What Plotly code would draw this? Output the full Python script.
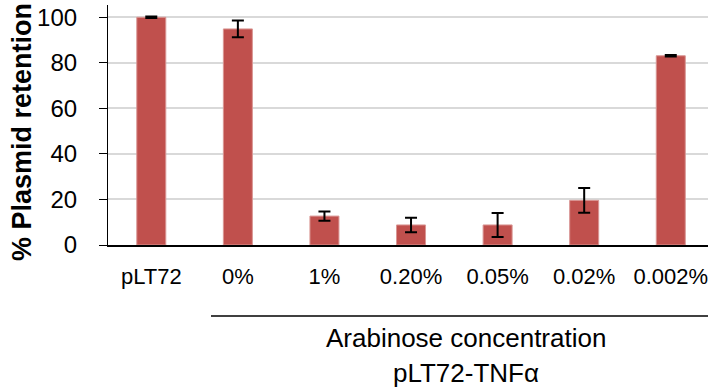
import plotly.graph_objects as go

categories = ["pLT72", "0%", "1%", "0.20%", "0.05%", "0.02%", "0.002%"]
retention = [100.0, 94.9, 12.7, 8.8, 8.8, 19.6, 83.1]
errors = [0.3, 3.7, 2.0, 3.2, 5.3, 5.4, 0.3]
tick_values = [0, 20, 40, 60, 80, 100]

FONT = "Liberation Sans, Arial, sans-serif"
x_idx = list(range(len(categories)))

fig = go.Figure()
fig.add_trace(go.Bar(
    x=x_idx, y=retention,
    width=0.335,
    marker=dict(color="#C0504D", line=dict(color="#D99694", width=1)),
    error_y=dict(type="data", array=errors, visible=True,
                 color="black", thickness=2, width=6),
))

fig.update_layout(
    width=708, height=391,
    margin=dict(l=108, r=0, t=5, b=146),
    plot_bgcolor="white", paper_bgcolor="white",
    showlegend=False,
    font=dict(family=FONT, color="black"),
    xaxis=dict(
        range=[-0.5, 6.43],
        tickmode="array", tickvals=x_idx, ticktext=categories,
        tickfont=dict(size=22, family=FONT, color="black"),
        showline=True, linecolor="black", linewidth=1.5,
        ticks="", showgrid=False, zeroline=False,
        ticklabelstandoff=11, ticklabeloverflow="allow",
    ),
    yaxis=dict(
        range=[0, 105.4],
        tickmode="array", tickvals=tick_values,
        tickfont=dict(size=24, family=FONT, color="black"),
        showline=True, linecolor="black", linewidth=1.2,
        ticks="outside", ticklen=8, tickcolor="black", tickwidth=1.2,
        showgrid=True, gridcolor="#D9D9D9", gridwidth=1.5,
        zeroline=False,
        ticklabelstandoff=17,
    ),
)

fig.add_annotation(
    text="<b>% Plasmid retention</b>", textangle=-90,
    xref="paper", yref="paper", x=(22 - 108) / 600, y=(245 - 132) / 240,
    xanchor="center", yanchor="middle", showarrow=False,
    font=dict(size=27, family=FONT, color="black"),
)
fig.add_shape(
    type="line", xref="paper", yref="paper",
    x0=(211 - 108) / 600, x1=1.0,
    y0=(245 - 316) / 240, y1=(245 - 316) / 240,
    line=dict(color="black", width=1.5),
)
fig.add_annotation(
    text="Arabinose concentration",
    xref="paper", yref="paper", x=(466 - 108) / 600, y=(245 - 338) / 240,
    xanchor="center", yanchor="middle", showarrow=False,
    font=dict(size=26, family=FONT, color="black"),
)
fig.add_annotation(
    text="pLT72-TNFα",
    xref="paper", yref="paper", x=(466 - 108) / 600, y=(245 - 373) / 240,
    xanchor="center", yanchor="middle", showarrow=False,
    font=dict(size=26, family=FONT, color="black"),
)

fig.write_html("out.html")
